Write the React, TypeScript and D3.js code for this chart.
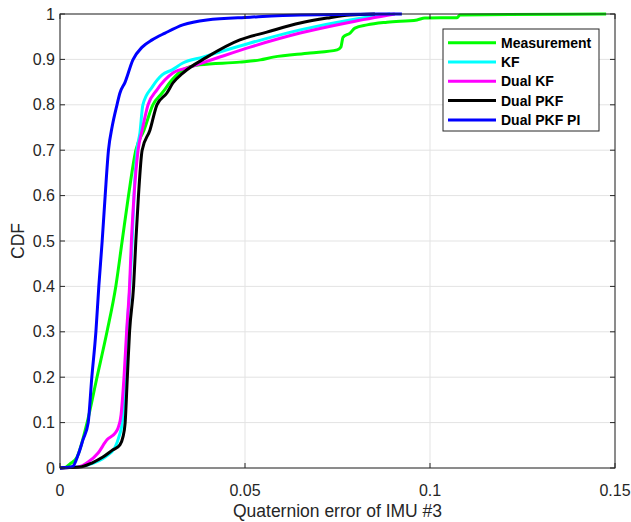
import React from 'react';
import * as d3 from 'd3';

// Series: [quaternion error, CDF]
const measurement: [number, number][] = [
  [0, 0], [0.0016, 0.002], [0.0027, 0.009], [0.0046, 0.024], [0.0073, 0.099],
  [0.01, 0.2], [0.0127, 0.3], [0.0151, 0.401], [0.0168, 0.5], [0.0185, 0.599],
  [0.0205, 0.7], [0.0227, 0.744], [0.0251, 0.8], [0.0276, 0.826], [0.0303, 0.855],
  [0.0332, 0.877], [0.0378, 0.888], [0.0486, 0.894], [0.0541, 0.899], [0.0576, 0.905],
  [0.0676, 0.914], [0.0749, 0.921], [0.0759, 0.927], [0.0765, 0.949], [0.0784, 0.958],
  [0.0797, 0.969], [0.083, 0.976], [0.0884, 0.982], [0.0965, 0.987], [0.0986, 0.991],
  [0.1073, 0.992], [0.1081, 0.998], [0.1476, 1.0],
];

const kf: [number, number][] = [
  [0, 0], [0.0041, 0.002], [0.0076, 0.007], [0.0122, 0.024], [0.0149, 0.046],
  [0.0159, 0.068], [0.0168, 0.099], [0.0176, 0.2], [0.0181, 0.3], [0.0189, 0.401],
  [0.0195, 0.5], [0.02, 0.599], [0.0208, 0.7], [0.0216, 0.738], [0.0224, 0.8],
  [0.0249, 0.839], [0.0276, 0.866], [0.0303, 0.877], [0.0332, 0.892], [0.0386, 0.905],
  [0.0514, 0.936], [0.0649, 0.965], [0.0784, 0.987], [0.0892, 1.0],
];

const dualKf: [number, number][] = [
  [0, 0], [0.0027, 0.001], [0.0049, 0.002], [0.0076, 0.013], [0.0103, 0.033],
  [0.0127, 0.062], [0.0149, 0.077], [0.0157, 0.088], [0.0165, 0.117], [0.0173, 0.2],
  [0.018, 0.3], [0.0188, 0.401], [0.0193, 0.5], [0.02, 0.599], [0.0211, 0.7],
  [0.0222, 0.744], [0.0238, 0.8], [0.0262, 0.833], [0.0305, 0.87], [0.0351, 0.883],
  [0.0424, 0.903], [0.0514, 0.927], [0.0649, 0.958], [0.0784, 0.982], [0.0905, 1.0],
];

const dualPkf: [number, number][] = [
  [0, 0], [0.0027, 0.001], [0.0054, 0.002], [0.0086, 0.011], [0.0116, 0.024],
  [0.0143, 0.04], [0.0162, 0.051], [0.017, 0.068], [0.0176, 0.099], [0.0182, 0.2],
  [0.0188, 0.3], [0.0199, 0.401], [0.0205, 0.5], [0.0212, 0.599], [0.0222, 0.7],
  [0.0243, 0.744], [0.0262, 0.8], [0.0289, 0.826], [0.0305, 0.848], [0.0332, 0.87],
  [0.0397, 0.905], [0.0486, 0.943], [0.0559, 0.96], [0.0649, 0.98], [0.0722, 0.991],
  [0.0784, 0.998], [0.0851, 1.0],
];

const dualPkfPi: [number, number][] = [
  [0, 0], [0.0027, 0.002], [0.0035, 0.004], [0.0049, 0.029], [0.0062, 0.062],
  [0.0076, 0.099], [0.0086, 0.2], [0.0097, 0.3], [0.0105, 0.401], [0.0114, 0.5],
  [0.0122, 0.599], [0.0131, 0.7], [0.0141, 0.752], [0.0154, 0.8], [0.0162, 0.826],
  [0.0176, 0.85], [0.0197, 0.899], [0.0222, 0.927], [0.0249, 0.943], [0.0284, 0.958],
  [0.0332, 0.976], [0.0397, 0.987], [0.0514, 0.993], [0.0649, 0.998], [0.0924, 1.0],
];

const seriesNames = ['Measurement', 'KF', 'Dual KF', 'Dual PKF', 'Dual PKF PI'];
const seriesColors = ['#00ff00', '#00ffff', '#ff00ff', '#000000', '#0000ff'];
const seriesData = [measurement, kf, dualKf, dualPkf, dualPkfPi];

const xTicks = [0, 0.05, 0.1, 0.15];
const xTickLabels = ['0', '0.05', '0.1', '0.15'];
const yTicks = [0, 0.1, 0.2, 0.3, 0.4, 0.5, 0.6, 0.7, 0.8, 0.9, 1];
const yTickLabels = ['0', '0.1', '0.2', '0.3', '0.4', '0.5', '0.6', '0.7', '0.8', '0.9', '1'];

const width = 631;
const height = 522;
const left = 60;
const right = 615;
const top = 14;
const bottom = 468;
const axisColor = '#262626';
const font = '"Liberation Sans", Arial, Helvetica, sans-serif';

export default function App() {
  const x = d3.scaleLinear().domain([0, 0.15]).range([left, right]);
  const y = d3.scaleLinear().domain([0, 1]).range([bottom, top]);

  // empirical CDFs have many steps, a monotone curve gives the same smooth look
  const line = d3.line<[number, number]>()
    .x(d => x(d[0]))
    .y(d => y(d[1]))
    .curve(d3.curveMonotoneX);

  // Legend
  const legX = 443;
  const legY = 29;
  const legW = 156;
  const legH = 102;
  const rowH = 19.3;

  return (
    <svg width={width} height={height}
      style={{ position: 'absolute', left: 0, top: 0, background: '#fff' }}>
      <rect x={0} y={0} width={width} height={height} fill="#fff" />

      {/* grid */}
      {xTicks.map((t, i) => (
        <line key={'gx' + i} x1={x(t)} x2={x(t)} y1={top} y2={bottom}
          stroke="#e3e3e3" strokeWidth={1} />
      ))}
      {yTicks.map((t, i) => (
        <line key={'gy' + i} x1={left} x2={right} y1={y(t)} y2={y(t)}
          stroke="#e3e3e3" strokeWidth={1} />
      ))}

      {/* curves */}
      <g fill="none" strokeWidth={3} strokeLinejoin="round">
        {seriesData.map((s, i) => (
          <path key={seriesNames[i]} d={line(s) || ''} stroke={seriesColors[i]} />
        ))}
      </g>

      {/* box */}
      <rect x={left} y={top} width={right - left} height={bottom - top}
        fill="none" stroke={axisColor} strokeWidth={1} />

      {/* ticks */}
      {xTicks.map((t, i) => (
        <g key={'tx' + i}>
          <line x1={x(t)} x2={x(t)} y1={bottom} y2={bottom - 5} stroke={axisColor} />
          <line x1={x(t)} x2={x(t)} y1={top} y2={top + 5} stroke={axisColor} />
          <text x={x(t)} y={496} textAnchor="middle" fontFamily={font} fontSize={16}
            fill={axisColor}>{xTickLabels[i]}</text>
        </g>
      ))}
      {yTicks.map((t, i) => (
        <g key={'ty' + i}>
          <line x1={left} x2={left + 5} y1={y(t)} y2={y(t)} stroke={axisColor} />
          <line x1={right} x2={right - 5} y1={y(t)} y2={y(t)} stroke={axisColor} />
          <text x={55} y={y(t)} dy="0.35em" textAnchor="end" fontFamily={font}
            fontSize={16} fill={axisColor}>{yTickLabels[i]}</text>
        </g>
      ))}

      {/* axis labels */}
      <text x={(left + right) / 2} y={517} textAnchor="middle" fontFamily={font}
        fontSize={17.5} fill={axisColor}>Quaternion error of IMU #3</text>
      <text transform={`translate(24, ${(top + bottom) / 2}) rotate(-90)`}
        textAnchor="middle" fontFamily={font} fontSize={17.5}
        fill={axisColor}>CDF</text>

      {/* legend */}
      <rect x={legX} y={legY} width={legW} height={legH} fill="#fff"
        stroke={axisColor} strokeWidth={1} />
      {seriesNames.map((name, i) => {
        const ry = legY + 13.7 + i * rowH;
        return (
          <g key={'leg' + i}>
            <line x1={448} x2={496} y1={ry} y2={ry} stroke={seriesColors[i]} strokeWidth={3} />
            <text x={501} y={ry} dy="0.36em" fontFamily={font} fontSize={14}
              fontWeight="bold" fill="#000">{name}</text>
          </g>
        );
      })}
    </svg>
  );
}
